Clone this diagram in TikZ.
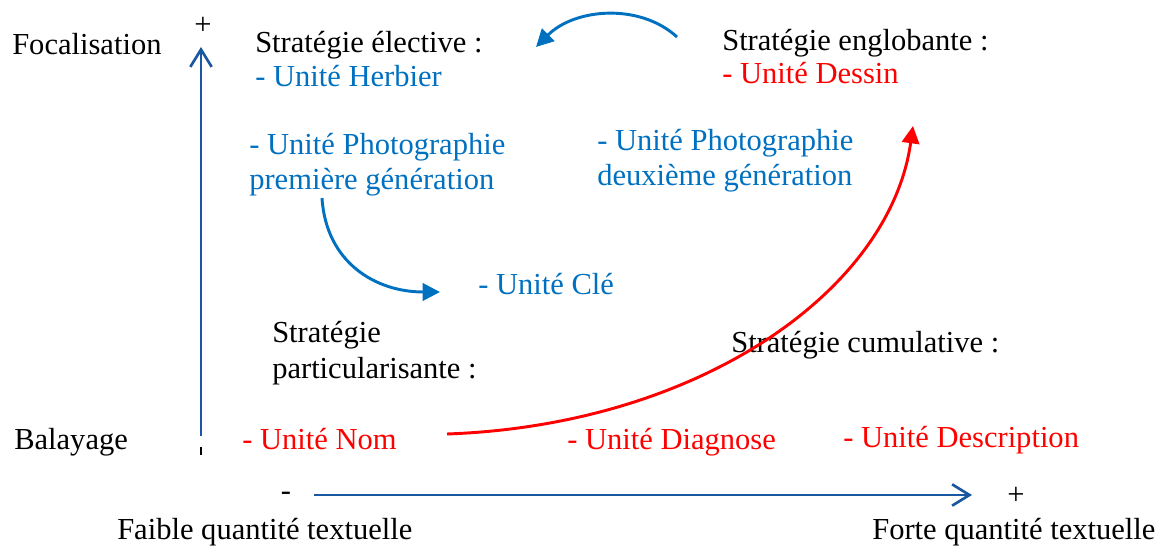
\documentclass[tikz,border=0pt]{standalone}
\usepackage{fontspec}
\setmainfont{Liberation Serif}
\usetikzlibrary{arrows.meta}
\definecolor{txtblue}{RGB}{0,112,192}
\definecolor{txtred}{RGB}{255,0,0}
\definecolor{axisblue}{RGB}{25,88,160}
\tikzset{
  lbl/.style={anchor=base west, inner sep=0pt, font=\fontsize{22.9}{27}\selectfont, text=black},
  bl/.style={lbl, text=txtblue},
  rd/.style={lbl, text=txtred},
  axis/.style={draw=axisblue, line width=2pt, -{Straight Barb[length=13pt,width=16pt,line width=2pt]}},
  bluecurve/.style={draw=txtblue, line width=2.2pt, -{Triangle[length=13pt,width=13pt]}},
  redcurve/.style={draw=txtred, line width=2.2pt, -{Triangle[length=13pt,width=13pt]}},
}
\begin{document}
\begin{tikzpicture}[x=0.75pt,y=-0.75pt]
\useasboundingbox (0,0) rectangle (1157,548);
% axes
\coordinate (vb) at (201,436);
\coordinate (vt) at (201,47);
\coordinate (hl) at (314,495);
\coordinate (hr) at (972,495);
\draw[axis] (vb) -- (vt);
\draw[axis] (hl) -- (hr);
\coordinate (tk1) at (201,447);
\coordinate (tk2) at (201,455);
\draw[black, line width=1pt] (tk1) -- (tk2);
\node[lbl, anchor=base] (plusv) at (203,35) {+};
\node[lbl, anchor=base] (minush) at (286,501) {-};
\node[lbl, anchor=base] (plush) at (1016,505) {+};
% axis labels
\node[lbl] (foc) at (12,55) {Focalisation};
\node[lbl] (bal) at (14,450) {Balayage};
\node[lbl] (faible) at (117,540) {Faible quantité textuelle};
\node[lbl] (forte) at (872,540) {Forte quantité textuelle};
% strategies
\node[lbl] (elect) at (255,53) {Stratégie élective :};
\node[bl] (herb) at (255,87) {- Unité Herbier};
\node[lbl] (englo) at (722,51) {Stratégie englobante :};
\node[rd] (dessin) at (722,84) {- Unité Dessin};
\node[bl] (photo1a) at (249,155) {- Unité Photographie};
\node[bl] (photo1b) at (249,190) {première génération};
\node[bl] (photo2a) at (597,151) {- Unité Photographie};
\node[bl] (photo2b) at (597,186) {deuxième génération};
\node[bl] (cle) at (478,295) {- Unité Clé};
\node[lbl] (parta) at (272,343) {Stratégie};
\node[lbl] (partb) at (272,379) {particularisante :};
\node[lbl] (cumul) at (731,353) {Stratégie cumulative :};
\node[rd] (nom) at (242,450) {- Unité Nom};
\node[rd] (diag) at (567,450) {- Unité Diagnose};
\node[rd] (descr) at (843,448) {- Unité Description};
% curves
\coordinate (c1s) at (677,37);
\coordinate (c1e) at (536,47);
\draw[bluecurve] (c1s) .. controls (640,3) and (575,8) .. (c1e);
\coordinate (c2s) at (322,198);
\coordinate (c2e) at (440,292);
\draw[bluecurve] (c2s) .. controls (326,262) and (375,292) .. (c2e);
\coordinate (c3s) at (447,434);
\coordinate (c3e) at (913,126);
\draw[redcurve] (c3s) .. controls (700,425) and (890,290) .. (c3e);
\end{tikzpicture}
\end{document}
